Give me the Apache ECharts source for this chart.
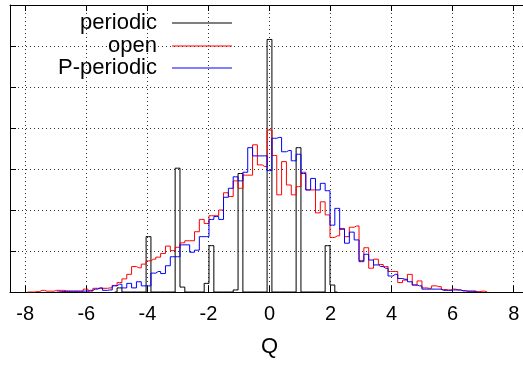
<!DOCTYPE html>
<html>
<head>
<meta charset="utf-8">
<script src="https://cdn.jsdelivr.net/npm/echarts@6/dist/echarts.min.js"></script>
<style>html,body{margin:0;padding:0;background:#fff;}#c{width:523px;height:365px;}</style>
</head>
<body>
<div id="c"></div>
<script>
// Histogram bin width (Q units); bins are centred at k * binWidth
const binWidth = 0.1585;
const xTickValues = [-8, -6, -4, -2, 0, 2, 4, 6, 8];

// periodic (black), first bin k = -32
const periodicStart = -32;
const periodic = [0, 0.1, 0, 0, 0, 0, 0, 1.35, 0, 0, 0, 0, 0, 3.02, 0.12, 0, 0, 0, 0, 0.21, 1.13, 0, 0, 0, 0, 0.05, 2.89, 0, 0, 0, 0, 0, 6.16, 0, 0, 0, 0, 0, 3.52, 0, 0, 0, 0, 0, 1.13, 0.17, 0];

// open (red), first bin k = -50
const openStart = -50;
const open = [0, 0, 0.01, 0.04, 0.02, 0.02, 0.04, 0.04, 0.03, 0.02, 0.02, 0.02, 0.07, 0.02, 0.09, 0.09, 0.09, 0.1, 0.16,
  0.23, 0.32, 0.43, 0.62, 0.59, 0.68, 0.76, 0.8, 0.85, 0.94, 1.12, 1.01, 1.09, 1.2, 1.25, 1.25, 1.47, 1.77, 1.67, 1.86, 1.86,
  2.0, 2.42, 2.33, 2.71, 2.53, 2.85, 2.85, 3.59, 3.1, 3.06, 3.95, 3.33, 2.37, 3.18, 2.61, 2.37, 2.57, 2.92, 2.49, 2.49, 1.93,
  2.2, 1.88, 1.33, 1.37, 1.55, 1.35, 1.58, 1.61, 0.77, 1.08, 0.58, 0.8, 0.67, 0.62, 0.5, 0.5, 0.23, 0.29, 0.43, 0.17, 0.27,
  0.1, 0.09, 0.15, 0.13, 0.06, 0.05, 0.07, 0.05, 0.03, 0.02, 0.02, 0.01, 0.02, 0];

// P-periodic (blue), first bin k = -44
const pperiodicStart = -44;
const pperiodic = [0, 0.01, 0.01, 0.02, 0.02, 0.02, 0.02, 0.04, 0.07, 0.1, 0.04, 0.05, 0.15, 0.19, 0.1, 0.21, 0.1, 0.25,
  0.15, 0.15, 0.46, 0.5, 0.45, 0.64, 0.86, 0.86, 1.15, 1.15, 0.97, 1.02, 1.35, 1.35, 1.77, 1.84, 1.77, 2.31, 2.53, 2.81, 2.71,
  2.92, 3.52, 3.32, 3.32, 3.32, 2.96, 3.75, 3.77, 3.42, 3.45, 3.2, 3.36, 2.89, 2.49, 2.77, 2.49, 2.65, 2.47, 1.63, 2.04, 1.53,
  1.19, 1.46, 1.27, 0.74, 0.92, 0.78, 0.66, 0.62, 0.58, 0.39, 0.43, 0.33, 0.31, 0.25, 0.17, 0.15, 0.07, 0.07, 0.07, 0.07,
  0.04, 0.04, 0.05, 0.05, 0.03, 0.02, 0.02, 0];

function toPoints(start, vals) {
  return vals.map((v, i) => [(start + i) * binWidth, v]);
}

const FONT = '"Liberation Sans", Arial, Helvetica, sans-serif';
const chart = echarts.init(document.getElementById('c'), null, { renderer: 'canvas' });

function legendFor(name, top) {
  return {
    data: [name], right: 291, top: top, orient: 'horizontal', align: 'right',
    itemWidth: 60, itemHeight: 1, icon: 'rect', padding: 0, selectedMode: false,
    textStyle: { fontSize: 22, lineHeight: 22, fontFamily: FONT, color: '#000', padding: [0, 10, 0, 0] }
  };
}

const xBase = {
  type: 'value', min: -8.5, max: 8.5, splitNumber: 8, minInterval: 2, maxInterval: 2
};

chart.setOption({
  animation: false,
  backgroundColor: '#fff',
  grid: { left: 10, right: -6, top: 5, bottom: 73, outerBoundsMode: 'none', show: false },
  legend: [legendFor('periodic', 12), legendFor('open', 35), legendFor('P-periodic', 57)],
  xAxis: [
    Object.assign({}, xBase, {
      position: 'bottom',
      name: 'Q', nameLocation: 'middle', nameGap: 44,
      nameTextStyle: { fontSize: 22, fontFamily: FONT, color: '#000' },
      axisLine: { show: true, onZero: false, lineStyle: { color: '#000', width: 1 } },
      axisTick: { show: true, inside: true, length: 6, lineStyle: { color: '#000' } },
      axisLabel: {
        fontSize: 20, fontFamily: FONT, color: '#000', margin: 12,
        showMinLabel: false, showMaxLabel: false,
        formatter: v => (xTickValues.indexOf(v) >= 0 ? String(v) : '')
      },
      splitLine: { show: true, lineStyle: { color: '#333', width: 1, type: [1, 3] } }
    }),
    Object.assign({}, xBase, {
      position: 'top',
      axisLine: { show: true, onZero: false, lineStyle: { color: '#000', width: 1 } },
      axisTick: { show: true, inside: true, length: 6, lineStyle: { color: '#000' } },
      axisLabel: { show: false },
      splitLine: { show: false }
    })
  ],
  yAxis: [{
    type: 'value', min: 0, max: 7, interval: 1, position: 'left',
    axisLine: { show: true, onZero: false, lineStyle: { color: '#000', width: 1 } },
    axisTick: { show: true, inside: true, length: 6, lineStyle: { color: '#000' } },
    axisLabel: { show: false },
    splitLine: { show: true, lineStyle: { color: '#333', width: 1, type: [1, 3] } }
  }],
  series: [
    { name: 'periodic', type: 'line', step: 'middle', symbol: 'none', data: toPoints(periodicStart, periodic),
      lineStyle: { color: '#000', width: 1 }, itemStyle: { color: '#000' } },
    { name: 'open', type: 'line', step: 'middle', symbol: 'none', data: toPoints(openStart, open),
      lineStyle: { color: '#ff0000', width: 1 }, itemStyle: { color: '#ff0000' } },
    { name: 'P-periodic', type: 'line', step: 'middle', symbol: 'none', data: toPoints(pperiodicStart, pperiodic),
      lineStyle: { color: '#0000ff', width: 1 }, itemStyle: { color: '#0000ff' } }
  ]
});
</script>
</body>
</html>
